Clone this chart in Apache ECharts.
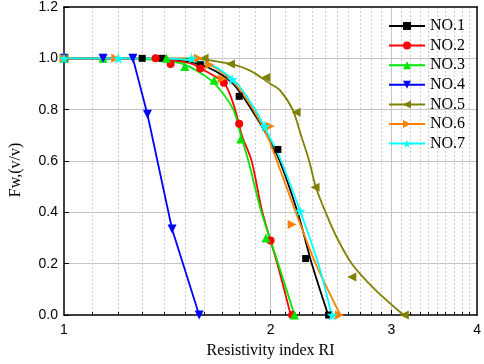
<!DOCTYPE html>
<html>
<head>
<meta charset="utf-8">
<script src="https://cdn.jsdelivr.net/npm/echarts@6/dist/echarts.min.js"></script>
<style>
  html, body { margin: 0; padding: 0; background: #fff; }
  #chart { width: 484px; height: 364px; }
</style>
</head>
<body>
<div id="chart"></div>
<script>
const names = ['NO.1', 'NO.2', 'NO.3', 'NO.4', 'NO.5', 'NO.6', 'NO.7'];

// measured points [RI, Fw]
const pointsNO1 = [[1, 1], [1.30, 1], [1.39, 1], [1.58, 0.975], [1.80, 0.852], [2.05, 0.645], [2.25, 0.22], [2.43, 0]];
const pointsNO2 = [[1, 1], [1.36, 1], [1.43, 0.978], [1.58, 0.96], [1.71, 0.905], [1.80, 0.745], [2.0, 0.29], [2.15, 0]];
const pointsNO3 = [[1, 1], [1.14, 1], [1.41, 1], [1.50, 0.968], [1.655, 0.915], [1.81, 0.686], [1.97, 0.30], [2.167, 0]];
const pointsNO4 = [[1, 1], [1.14, 1], [1.26, 1], [1.323, 0.782], [1.437, 0.335], [1.574, 0]];
const pointsNO5 = [[1, 1], [1.60, 1], [1.748, 0.978], [1.968, 0.925], [2.179, 0.79], [2.322, 0.498], [2.627, 0.148], [3.133, 0]];
const pointsNO6 = [[1, 1], [1.19, 1], [1.57, 1], [1.63, 0.975], [1.70, 0.92], [1.997, 0.735], [2.15, 0.353], [2.52, 0]];
const pointsNO7 = [[1, 1], [1.20, 1], [1.535, 1], [1.758, 0.918], [1.962, 0.735], [2.208, 0.405], [2.459, 0]];

// fitted curves
const curveNO1 = [[1, 1], [1.3, 1], [1.45, 0.993], [1.557, 0.98], [1.664, 0.95], [1.765, 0.9], [1.877, 0.8], [1.977, 0.7], [2.062, 0.6], [2.19, 0.4], [2.297, 0.2], [2.427, 0]];
const curveNO2 = [[1, 1], [1.3, 1], [1.45, 0.99], [1.53, 0.98], [1.61, 0.95], [1.715, 0.9], [1.776, 0.8], [1.816, 0.7], [1.877, 0.6], [1.946, 0.4], [2.046, 0.2], [2.14, 0]];
const curveNO3 = [[1, 1], [1.25, 1], [1.4, 0.99], [1.482, 0.98], [1.566, 0.95], [1.66, 0.9], [1.765, 0.8], [1.81, 0.7], [1.857, 0.6], [1.94, 0.4], [2.052, 0.2], [2.167, 0]];
const curveNO4 = pointsNO4;
const curveNO5 = [[1, 1], [1.5, 1], [1.6, 0.995], [1.748, 0.978], [1.867, 0.952], [2.0, 0.9], [2.062, 0.877], [2.154, 0.8], [2.215, 0.7], [2.277, 0.6], [2.327, 0.5], [2.406, 0.4], [2.5, 0.3], [2.627, 0.2], [2.838, 0.1], [3.125, 0]];
const curveNO6 = [[1, 1], [1.35, 1], [1.5, 0.995], [1.61, 0.98], [1.69, 0.95], [1.777, 0.9], [1.888, 0.8], [1.977, 0.7], [2.043, 0.6], [2.177, 0.4], [2.327, 0.2], [2.528, 0]];
const curveNO7 = [[1, 1], [1.35, 1], [1.5, 0.995], [1.62, 0.98], [1.70, 0.95], [1.79, 0.9], [1.9, 0.8], [1.988, 0.7], [2.073, 0.6], [2.212, 0.4], [2.348, 0.2], [2.455, 0]];

const xLabels = [1, 2, 3, 4];
const xMajor = [2, 3];
const xMinor = [1.1, 1.2, 1.3, 1.4, 1.5, 1.6, 1.7, 1.8, 1.9,
  2.1, 2.2, 2.3, 2.4, 2.5, 2.6, 2.7, 2.8, 2.9,
  3.1, 3.2, 3.3, 3.4, 3.5, 3.6, 3.7, 3.8, 3.9];

const points = [pointsNO1, pointsNO2, pointsNO3, pointsNO4, pointsNO5, pointsNO6, pointsNO7];
const curves = [curveNO1, curveNO2, curveNO3, curveNO4, curveNO5, curveNO6, curveNO7];

const colors = ['#000000', '#ff0000', '#00e600', '#0000ff', '#808000', '#ff8000', '#00ffff'];
const symbols = [
  'rect',
  'circle',
  'triangle',
  'path://M0,0L10,0L5,9Z',
  'path://M9,0L9,10L0,5Z',
  'path://M0,0L0,10L9,5Z',
  'path://M50,0L61,35L98,35L68,57L79,91L50,70L21,91L32,57L2,35L39,35Z',
];
const sizes = [7, 8, 9, 9, 9, 9, 11];

const serif = 'Liberation Serif';
const sans = 'Liberation Sans';

const series = [];
names.forEach((name, i) => {
  series.push({
    name,
    type: 'line',
    data: curves[i],
    smooth: i === 3 ? false : 0.3,
    showSymbol: false,
    symbol: symbols[i],
    symbolSize: sizes[i],
    lineStyle: { color: colors[i], width: 1.8 },
    itemStyle: { color: colors[i] },
    z: 2,
  });
  series.push({
    name,
    type: 'scatter',
    data: points[i],
    symbol: symbols[i],
    symbolSize: sizes[i],
    itemStyle: { color: colors[i], opacity: 1 },
    z: 3,
  });
});

const chart = echarts.init(document.getElementById('chart'));
chart.setOption({
  animation: false,
  backgroundColor: '#fff',
  grid: { left: 61, right: 3, top: 6, bottom: 46 },
  legend: {
    data: names,
    orient: 'vertical',
    left: 383,
    top: 13,
    itemWidth: 36,
    itemHeight: 10,
    itemGap: 3.6,
    textStyle: { fontFamily: serif, fontSize: 16, color: '#000' },
  },
  xAxis: [
    {
      type: 'log',
      logBase: 2,
      min: 1,
      max: 4,
      position: 'bottom',
      name: 'Resistivity index RI',
      nameLocation: 'middle',
      nameGap: 28,
      nameTextStyle: { fontFamily: serif, fontSize: 16, color: '#000' },
      axisLine: { onZero: false, lineStyle: { color: '#000', width: 1.5 } },
      axisTick: { inside: true, length: 5, customValues: xMajor, lineStyle: { color: '#000' } },
      axisLabel: {
        customValues: xLabels, margin: 8, fontFamily: sans, fontSize: 14, color: '#000',
      },
      splitLine: { show: true, lineStyle: { color: '#c4c4c4', width: 1 } },
    },
    {
      type: 'log',
      logBase: 2,
      min: 1,
      max: 4,
      position: 'bottom',
      axisLine: { show: false, onZero: false },
      axisTick: { inside: true, length: 3, customValues: xMinor, lineStyle: { color: '#000' } },
      axisLabel: { show: false },
      splitLine: { show: true, lineStyle: { color: '#cccccc', width: 1, type: [2, 2] } },
    },
    {
      type: 'log',
      logBase: 2,
      min: 1,
      max: 4,
      position: 'top',
      z: 5,
      axisLine: { onZero: false, lineStyle: { color: '#000', width: 1.5 } },
      axisTick: { show: false },
      axisLabel: { show: false },
      splitLine: { show: false },
    },
  ],
  yAxis: [
    {
      type: 'value',
      min: 0,
      max: 1.2,
      interval: 0.2,
      name: 'Fw,(v/v)',
      nameLocation: 'middle',
      nameGap: 40,
      nameTextStyle: {
        fontFamily: serif, fontSize: 16, color: '#000', padding: [0, 18, 0, 0],
      },
      axisLine: { show: true, onZero: false, lineStyle: { color: '#000', width: 1.5 } },
      axisTick: { show: true, inside: true, length: 5, lineStyle: { color: '#000' } },
      axisLabel: {
        margin: 6, fontFamily: sans, fontSize: 14, color: '#000',
        formatter: (v) => v.toFixed(1),
      },
      splitLine: {
        show: true, showMinLine: false, showMaxLine: false,
        lineStyle: { color: '#c4c4c4', width: 1 },
      },
    },
    {
      type: 'value',
      min: 0,
      max: 1.2,
      position: 'right',
      z: 5,
      axisLine: { show: true, onZero: false, lineStyle: { color: '#000', width: 1.5 } },
      axisTick: { show: false },
      axisLabel: { show: false },
      splitLine: { show: false },
    },
  ],
  series,
});
</script>
</body>
</html>
